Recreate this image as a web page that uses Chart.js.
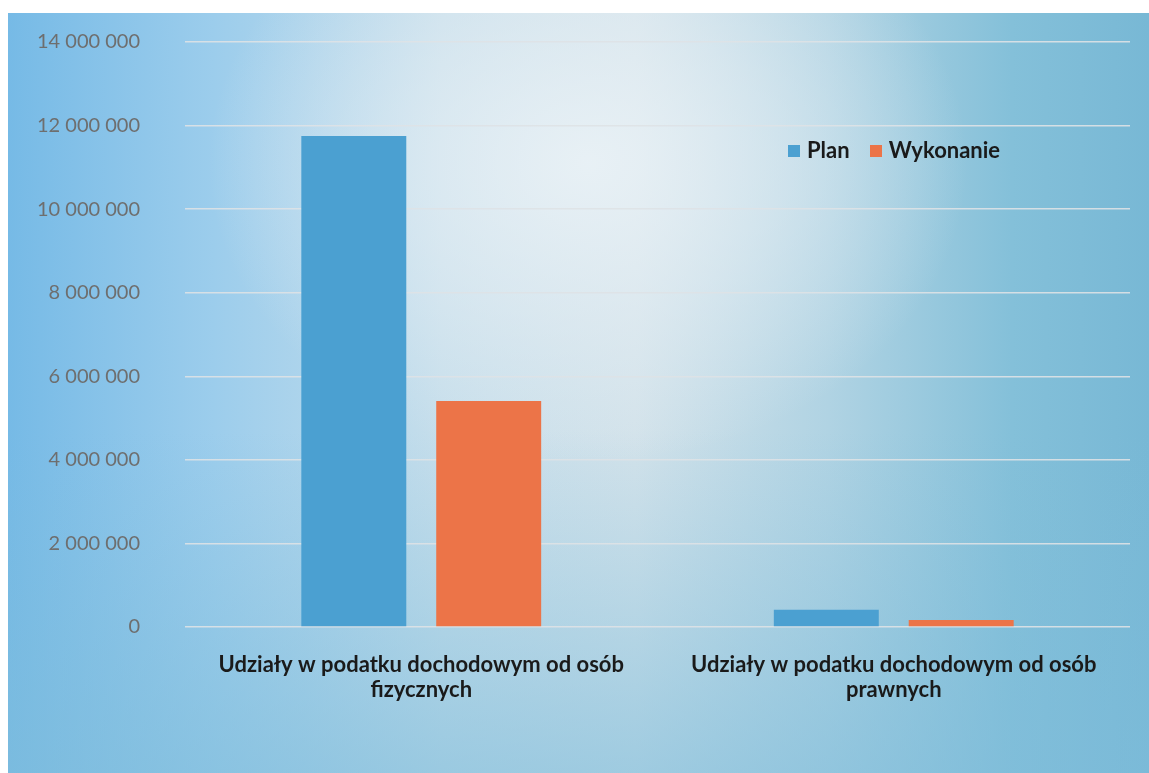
<!DOCTYPE html>
<html>
<head>
<meta charset="utf-8">
<script src="https://cdn.jsdelivr.net/npm/chart.js@4.4.1/dist/chart.umd.min.js"></script>
<style>
  html, body { margin: 0; padding: 0; width: 1149px; height: 773px; background: #ffffff; overflow: hidden; }
  #bg {
    position: absolute; left: 8px; top: 13px; width: 1141px; height: 760px;
    background:
      radial-gradient(ellipse 380px 300px at 580px 150px, rgba(236,243,247,0.85) 0%, rgba(232,240,245,0.5) 50%, rgba(232,240,245,0) 100%),
      linear-gradient(to bottom, rgba(125,188,218,0) 0%, rgba(125,188,218,0) 55%, rgba(125,188,218,0.6) 100%),
      linear-gradient(to right, #76bae6 0%, #9ccdec 18%, #c6deeb 38%, #d2e2ea 55%, #b0d3e3 72%, #84c0d9 88%, #78b8d5 100%);
  }
  #wrap { position: absolute; left: 0; top: 0; width: 1149px; height: 773px; }
  #legend {
    position: absolute; left: 788px; top: 136px; font-family: Lato, "Open Sans", sans-serif;
    font-weight: bold; font-size: 22px; color: #1a1a1a; white-space: nowrap; line-height: 28px;
  }
  #legend span.item { display: inline-block; margin-right: 20px; }
  #legend span.sw { display: inline-block; width: 12px; height: 12px; margin-right: 7px; vertical-align: 1px; }
</style>
</head>
<body>
<div id="bg"></div>
<div id="wrap"><canvas id="c" width="1149" height="773"></canvas></div>
<div id="legend"></div>
<script>
const categories = [
  ['Udziały w podatku dochodowym od osób', 'fizycznych'],
  ['Udziały w podatku dochodowym od osób', 'prawnych']
];
const seriesNames = ['Plan', 'Wykonanie'];
const planValues = [11750000, 410000];
const wykonanieValues = [5410000, 170000];
const seriesColors = ['#4ba0d1', '#ec7448'];
const yMax = 14000000;
const yStep = 2000000;

const legendEl = document.getElementById('legend');
seriesNames.forEach((n, i) => {
  const item = document.createElement('span');
  item.className = 'item';
  const sw = document.createElement('span');
  sw.className = 'sw';
  sw.style.background = seriesColors[i];
  item.appendChild(sw);
  item.appendChild(document.createTextNode(n));
  legendEl.appendChild(item);
});

function fmt(v) {
  return String(Math.round(v)).replace(/\B(?=(\d{3})+(?!\d))/g, ' ');
}

new Chart(document.getElementById('c'), {
  type: 'bar',
  data: {
    labels: categories,
    datasets: [
      { label: seriesNames[0], data: planValues, backgroundColor: seriesColors[0], borderWidth: 0 },
      { label: seriesNames[1], data: wykonanieValues, backgroundColor: seriesColors[1], borderWidth: 0 }
    ]
  },
  options: {
    responsive: false,
    animation: false,
    devicePixelRatio: 1,
    layout: { padding: { top: 42, right: 19, bottom: 0, left: 0 } },
    datasets: { bar: { categoryPercentage: 0.571, barPercentage: 0.778 } },
    plugins: { legend: { display: false }, tooltip: { enabled: false } },
    scales: {
      x: {
        afterFit: (s) => { s.height = 146; s.paddingLeft = 0; s.paddingRight = 0; },
        grid: { display: false, drawTicks: false },
        border: { display: false },
        ticks: {
          color: '#1a1a1a',
          font: { family: 'Lato, "Open Sans", sans-serif', size: 22, weight: 'bold', lineHeight: 1.14 },
          padding: 25,
          maxRotation: 0,
          autoSkip: false
        }
      },
      y: {
        min: 0, max: yMax,
        afterFit: (s) => { s.width = 185; s.paddingTop = 0; s.paddingBottom = 0; },
        grid: { color: 'rgba(222,226,229,0.9)', lineWidth: 1.5, drawTicks: false },
        border: { display: false },
        ticks: {
          stepSize: yStep,
          padding: 45,
          color: '#6e6e6e',
          font: { family: 'Lato, "Open Sans", sans-serif', size: 20 },
          callback: (v) => fmt(v)
        }
      }
    }
  }
});
</script>
</body>
</html>
